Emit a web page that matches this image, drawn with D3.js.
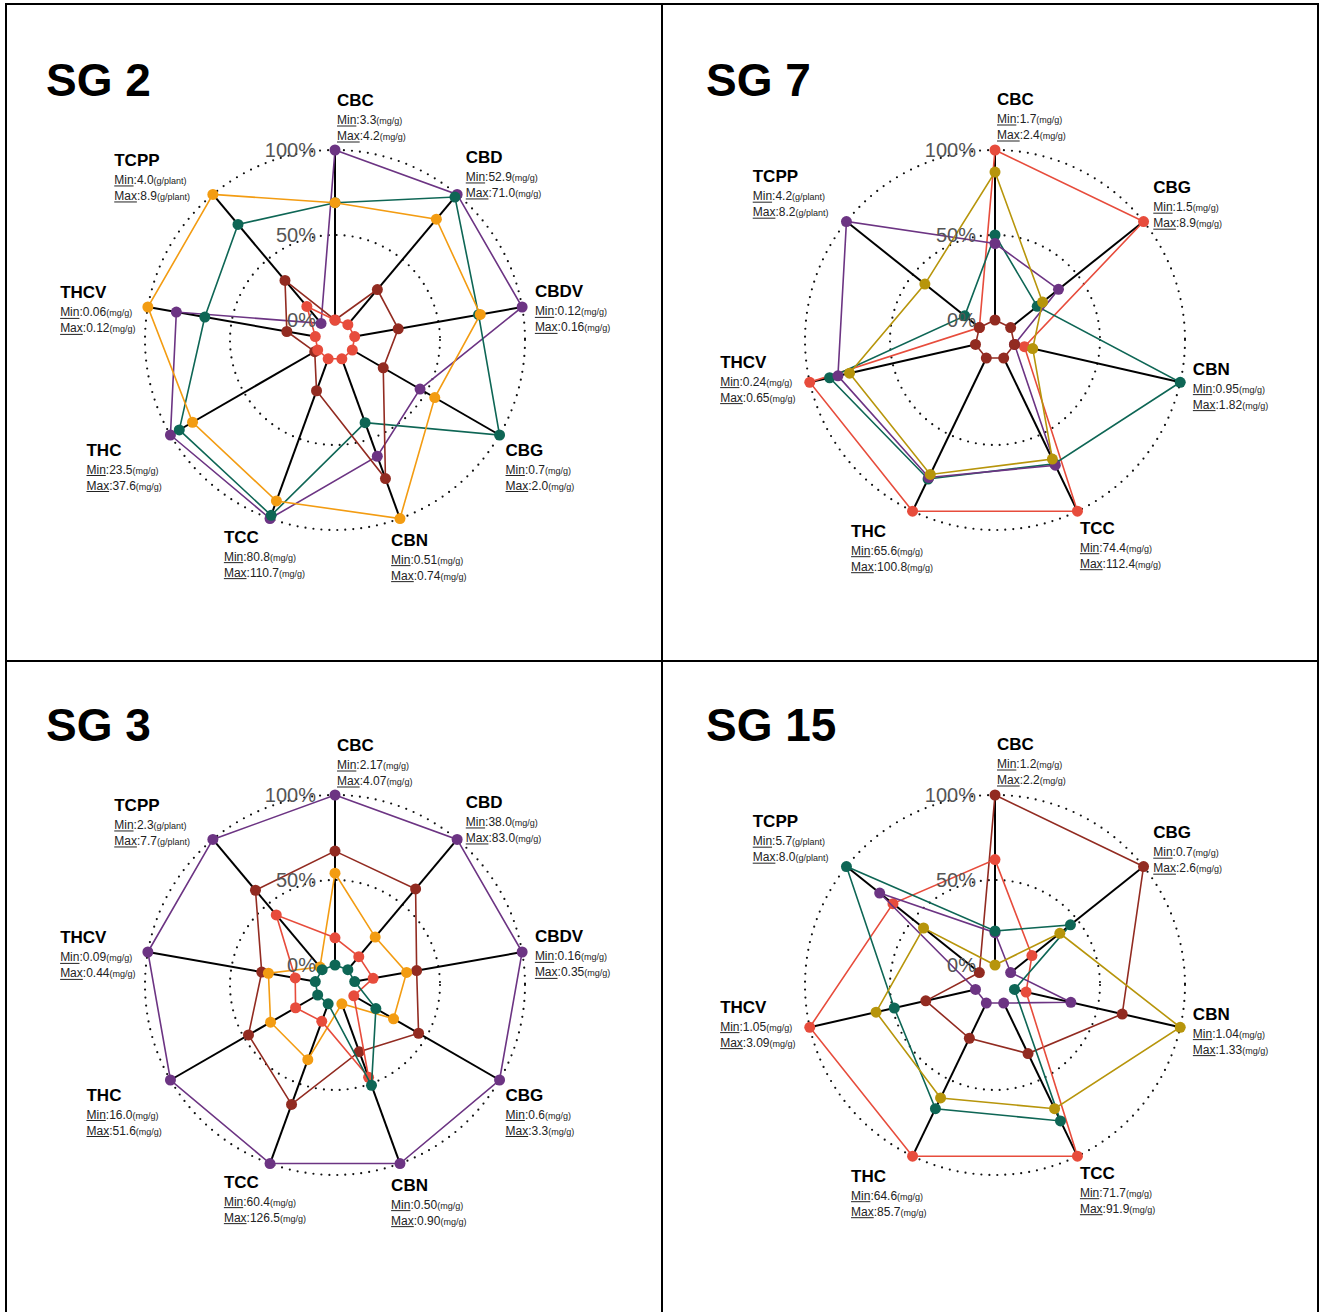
<!DOCTYPE html>
<html><head><meta charset="utf-8">
<script src="https://cdn.jsdelivr.net/npm/d3@7"></script>
<style>
body{margin:0;background:#fff}
svg{display:block}
text{font-family:"Liberation Sans",Arial,Helvetica,sans-serif}
</style>
</head><body>
<svg id="c" width="1319" height="1312"></svg>
<script>
// ---------------- DATA ----------------
const axes9 = ["CBC","CBD","CBDV","CBG","CBN","TCC","THC","THCV","TCPP"];
const axes7 = ["CBC","CBG","CBN","TCC","THC","THCV","TCPP"];
const units9 = ["mg/g","mg/g","mg/g","mg/g","mg/g","mg/g","mg/g","mg/g","g/plant"];
const units7 = ["mg/g","mg/g","mg/g","mg/g","mg/g","mg/g","g/plant"];

const gridLevels = [0, 0.5, 1];
const gridLabels = ["0%","50%","100%"];

// SG 2
const sg2Min = ["3.3","52.9","0.12","0.7","0.51","80.8","23.5","0.06","4.0"];
const sg2Max = ["4.2","71.0","0.16","2.0","0.74","110.7","37.6","0.12","8.9"];
const sg2Purple  = [1.00,1.00,1.00,0.46,0.61,1.00,1.00,0.83,0.01];
const sg2Green   = [0.69,0.98,0.74,1.00,0.40,0.98,0.94,0.66,0.77];
const sg2Orange  = [0.69,0.81,0.75,0.56,1.00,0.89,0.85,1.00,1.00];
const sg2DarkRed = [0.00,0.27,0.26,0.21,0.75,0.20,0.02,0.17,0.34];
const sg2Red     = [0.00,0.00,0.00,0.00,0.00,0.00,0.00,0.00,0.14];

// SG 7
const sg7Min = ["1.7","1.5","0.95","74.4","65.6","0.24","4.2"];
const sg7Max = ["2.4","8.9","1.82","112.4","100.8","0.65","8.2"];
const sg7Red     = [1.00,1.00,0.06,1.00,1.00,1.00,0.00];
const sg7Green   = [0.50,0.20,1.00,0.69,0.79,0.88,0.11];
const sg7Purple  = [0.45,0.36,0.00,0.70,0.78,0.83,1.00];
const sg7Mustard = [0.87,0.24,0.11,0.66,0.76,0.76,0.41];
const sg7DarkRed = [0.00,0.00,0.00,0.00,0.00,0.00,0.00];

// SG 3
const sg3Min = ["2.17","38.0","0.16","0.6","0.50","60.4","16.0","0.09","2.3"];
const sg3Max = ["4.07","83.0","0.35","3.3","0.90","126.5","51.6","0.44","7.7"];
const sg3Purple  = [1.00,1.00,1.00,1.00,1.00,1.00,1.00,1.00,1.00];
const sg3DarkRed = [0.67,0.62,0.37,0.45,0.30,0.63,0.47,0.32,0.61];
const sg3Orange  = [0.54,0.25,0.31,0.28,0.00,0.35,0.32,0.28,0.02];
const sg3Red     = [0.16,0.10,0.11,0.01,0.46,0.11,0.15,0.12,0.42];
const sg3Green   = [0.00,0.00,0.00,0.16,0.51,0.00,0.00,0.00,0.00];

// SG 15
const sg15Min = ["1.2","0.7","1.04","71.7","64.6","1.05","5.7"];
const sg15Max = ["2.2","2.6","1.33","91.9","85.7","3.09","8.0"];
const sg15DarkRed = [1.00,1.00,0.65,0.33,0.23,0.30,0.00];
const sg15Red     = [0.62,0.16,0.07,1.00,1.00,1.00,0.65];
const sg15Purple  = [0.19,0.00,0.34,0.00,0.00,0.00,0.75];
const sg15Green   = [0.20,0.45,0.00,0.77,0.69,0.49,1.00];
const sg15Mustard = [0.00,0.37,1.00,0.69,0.62,0.60,0.42];

// ---------------- STYLE / LAYOUT ----------------
const C = {purple:"#6C3483", green:"#0E6655", orange:"#F39C12", darkred:"#922B21", red:"#E74C3C", mustard:"#B7950B"};
// label nudges (title baseline-left, relative to anchor on radius 205)
const nudge9 = [[2,-29],[-1,-20],[-2,-7],[-7,13],[-14,13],[-41,10],[-71,13],[-73,-6],[-89,-17]];
const nudge7 = [[2,-30],[-2,-19],[-2,-11],[-4,9],[-55,12],[-75,-18],[-82,-30]];

const panels = [
  {name:"SG 2", ox:0, oy:0, axes:axes9, units:units9, mins:sg2Min, maxs:sg2Max, nudge:nudge9,
   series:[{c:C.purple,v:sg2Purple},{c:C.green,v:sg2Green},{c:C.orange,v:sg2Orange},{c:C.darkred,v:sg2DarkRed},{c:C.red,v:sg2Red}]},
  {name:"SG 7", ox:660, oy:0, axes:axes7, units:units7, mins:sg7Min, maxs:sg7Max, nudge:nudge7,
   series:[{c:C.red,v:sg7Red},{c:C.green,v:sg7Green},{c:C.purple,v:sg7Purple},{c:C.mustard,v:sg7Mustard},{c:C.darkred,v:sg7DarkRed}]},
  {name:"SG 3", ox:0, oy:645, axes:axes9, units:units9, mins:sg3Min, maxs:sg3Max, nudge:nudge9,
   series:[{c:C.purple,v:sg3Purple},{c:C.darkred,v:sg3DarkRed},{c:C.orange,v:sg3Orange},{c:C.red,v:sg3Red},{c:C.green,v:sg3Green}]},
  {name:"SG 15", ox:660, oy:645, axes:axes7, units:units7, mins:sg15Min, maxs:sg15Max, nudge:nudge7,
   series:[{c:C.darkred,v:sg15DarkRed},{c:C.red,v:sg15Red},{c:C.purple,v:sg15Purple},{c:C.green,v:sg15Green},{c:C.mustard,v:sg15Mustard}]}
];

const svg = d3.select("#c");
svg.append("rect").attr("width",1319).attr("height",1312).attr("fill","#fff");

const rScale = d3.scaleLinear().domain([0,1]).range([20,190]);
const CX = 335, CY = 340;

function drawPanel(p){
  const g = svg.append("g").attr("transform",`translate(${p.ox+CX},${p.oy+CY})`);
  const n = p.axes.length;
  const aScale = d3.scaleLinear().domain([0,n]).range([0,2*Math.PI]);
  const px = (i,v)=> rScale(v)*Math.sin(aScale(i));
  const py = (i,v)=> -rScale(v)*Math.cos(aScale(i));

  // dotted rings
  g.selectAll("circle.grid").data(gridLevels.filter(d=>d>0)).join("circle")
    .attr("class","grid").attr("r",d=>rScale(d)).attr("fill","none")
    .attr("stroke","#111").attr("stroke-width",2.2)
    .attr("stroke-dasharray","0 8").attr("stroke-linecap","round");

  // spokes
  g.selectAll("line.spoke").data(p.axes).join("line").attr("class","spoke")
    .attr("x1",(d,i)=>px(i,0)).attr("y1",(d,i)=>py(i,0))
    .attr("x2",(d,i)=>px(i,1)).attr("y2",(d,i)=>py(i,1))
    .attr("stroke","#000").attr("stroke-width",2);

  const line = d3.lineRadial().angle((d,i)=>aScale(i)).radius(d=>rScale(d)).curve(d3.curveLinearClosed);
  p.series.forEach(s=>{
    const sg = g.append("g");
    sg.append("path").attr("d",line(s.v)).attr("fill","none").attr("stroke",s.c).attr("stroke-width",1.6);
    sg.selectAll("circle").data(s.v).join("circle")
      .attr("cx",(d,i)=>px(i,d)).attr("cy",(d,i)=>py(i,d)).attr("r",5.5).attr("fill",s.c);
  });

  // axis labels
  p.axes.forEach((a,i)=>{
    const nd = p.nudge[i];
    const x = 205*Math.sin(aScale(i)) + nd[0];
    const y = -205*Math.cos(aScale(i)) + nd[1];
    g.append("text").attr("x",x).attr("y",y).attr("font-weight","bold").attr("font-size",17).attr("fill","#000").text(a);
    [["Min",p.mins[i],18],["Max",p.maxs[i],34]].forEach(([lab,val,dy])=>{
      const t = g.append("text").attr("x",x).attr("y",y+dy).attr("font-size",12).attr("fill","#222");
      const ts = t.append("tspan").text(lab);
      t.append("tspan").text(":"+val);
      t.append("tspan").attr("font-size",9).text("("+p.units[i]+")");
      const w = ts.node().getComputedTextLength();
      g.append("line").attr("x1",x).attr("x2",x+w).attr("y1",y+dy+2).attr("y2",y+dy+2)
        .attr("stroke","#222").attr("stroke-width",1);
    });
  });

  // ring labels
  g.selectAll("text.tick").data(gridLevels).join("text").attr("class","tick")
    .attr("x",-19).attr("y",d=>-rScale(d)).attr("text-anchor","end")
    .attr("dominant-baseline","central").attr("font-size",20).attr("fill","#555")
    .text((d,i)=>gridLabels[i]);

  // title
  svg.append("text").attr("x",p.ox+46).attr("y",p.oy+96).attr("font-weight","bold")
    .attr("font-size",46).attr("fill","#000").text(p.name);
}
panels.forEach(drawPanel);

// frame
const frame = [[6,4,1318,4],[6,4,6,1312],[1318,4,1318,1312],[662,4,662,1312],[6,661,1318,661]];
svg.selectAll("line.frame").data(frame).join("line").attr("class","frame")
  .attr("x1",d=>d[0]).attr("y1",d=>d[1]).attr("x2",d=>d[2]).attr("y2",d=>d[3])
  .attr("stroke","#000").attr("stroke-width",2).attr("stroke-linecap","square");
</script>
</body></html>
